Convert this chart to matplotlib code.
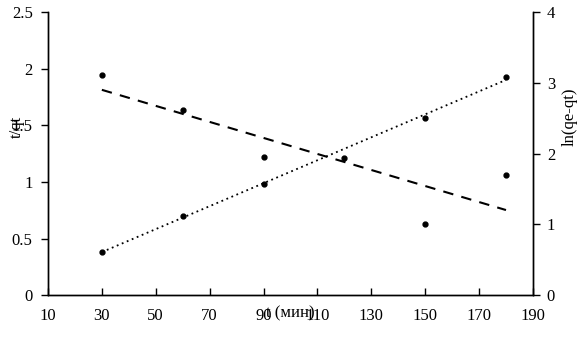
import numpy as np
import matplotlib
matplotlib.use("Agg")
import matplotlib.pyplot as plt

plt.rcParams['font.family'] = ['Liberation Serif', 'DejaVu Serif']
plt.rcParams['font.size'] = 12

# t/qt series (left axis)
t1 = [30, 60, 90, 150, 180]
tq = [0.38, 0.70, 0.98, 1.56, 1.93]

# ln(qe-qt) series (right axis)
t2 = [30, 60, 90, 120, 150, 180]
lnq = [3.11, 2.61, 1.95, 1.94, 1.00, 1.70]

fig = plt.figure(figsize=(5.85, 3.44), dpi=100)
ax = fig.add_axes([0.082, 0.142, 0.829, 0.823])
ax2 = ax.twinx()

# points and linear trendlines
ax.plot(t1, tq, 'o', color='black', markersize=3.5)
k1 = np.polyfit(t1, tq, 1)
xs1 = np.array([min(t1), max(t1)])
ax.plot(xs1, np.polyval(k1, xs1), color='black', lw=1.3, linestyle=(0, (1, 2)))

ax2.plot(t2, lnq, 'o', color='black', markersize=3.5)
k2 = np.polyfit(t2, lnq, 1)
xs2 = np.array([min(t2), max(t2)])
ax2.plot(xs2, np.polyval(k2, xs2), color='black', lw=1.5, linestyle=(0, (5, 4)))

ax.set_xlim(10, 190)
ax.set_ylim(0, 2.5)
ax2.set_ylim(0, 4)
ax.set_xticks(np.arange(10, 191, 20))
ax.set_yticks([0, 0.5, 1, 1.5, 2, 2.5])
ax.set_yticklabels(['0', '0.5', '1', '1.5', '2', '2.5'])
ax2.set_yticks([0, 1, 2, 3, 4])

ax.spines['top'].set_visible(False)
ax2.spines['top'].set_visible(False)
for s in ['left', 'bottom', 'right']:
    ax.spines[s].set_linewidth(1.0)
    ax2.spines[s].set_linewidth(1.0)

ax.tick_params(axis='y', direction='out', length=5, width=1, pad=6)
ax.tick_params(axis='x', direction='in', length=5, width=1, pad=9)
ax2.tick_params(axis='y', direction='out', length=5, width=1, pad=5)

ax.set_xlabel('t (мин)')
ax.xaxis.label.set_va('center')
ax.xaxis.set_label_coords(0.5, -0.064)

ax.set_ylabel('t/qt')
ax.yaxis.label.set_va('center')
ax.yaxis.set_label_coords(-0.064, 0.594)

ax2.set_ylabel('ln(qe-qt)')
ax2.yaxis.label.set_va('center')
ax2.yaxis.set_label_coords(1.076, 0.629)

fig.savefig('out.png', dpi=100)
